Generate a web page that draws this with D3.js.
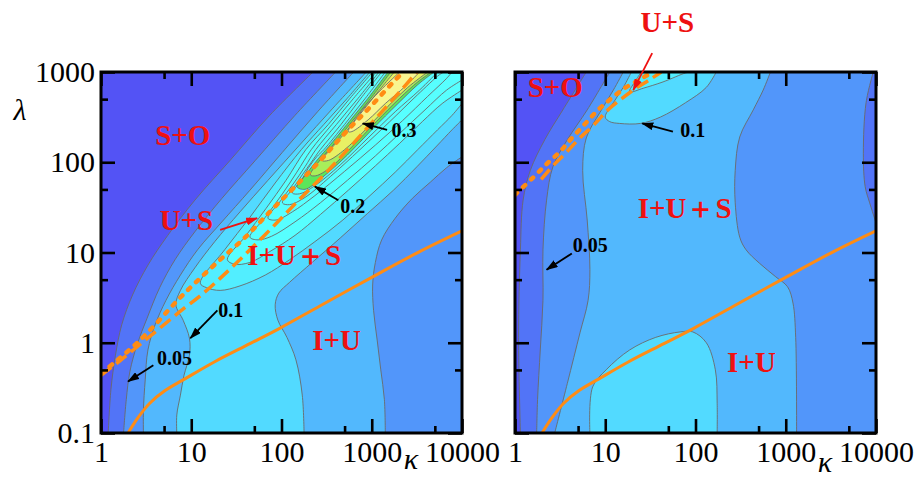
<!DOCTYPE html>
<html><head><meta charset="utf-8">
<script src="https://cdn.jsdelivr.net/npm/d3@7"></script>
<style>
body{margin:0;background:#fff;}
svg text{font-family:"Liberation Serif","Times New Roman",serif;}
</style></head><body>
<svg id="chart" width="919" height="478"></svg>
<script>
// ---------- axis ticks ----------
const kappaTicks = [1,10,100,1000,10000];
const kappaMinor = [5,50,500,5000];
const lambdaTicks = [0.1,1,10,100,1000];
const lambdaMinor = [0.5,5,50,500];

// ---------- contour data, points are [log10 kappa, log10 lambda] ----------
// orange solid curve (identical in both panels)
const solidCurve = [[0.30,-1.00],[0.41,-0.83],[0.54,-0.67],[0.71,-0.53],[0.93,-0.40],[1.26,-0.21],[1.65,-0.01],[1.98,0.16],[2.43,0.41],[3.01,0.73],[3.53,1.01],[4.00,1.24]];

// left panel
const leftC025  = [[2.35,3.00],[1.87,2.52],[1.43,2.02],[1.04,1.58],[0.74,1.19],[0.52,0.86],[0.35,0.53],[0.23,0.20],[0.16,-0.14],[0.11,-0.52],[0.08,-1.00]];
const leftC050  = [[2.60,3.00],[2.15,2.52],[1.71,2.02],[1.34,1.60],[1.04,1.23],[0.82,0.92],[0.65,0.61],[0.51,0.27],[0.40,-0.02],[0.32,-0.32],[0.28,-0.63],[0.25,-1.00]];
const leftC075a = [[2.80,3.00],[2.40,2.56],[2.01,2.11],[1.65,1.69],[1.34,1.34],[1.07,1.03],[0.88,0.75],[0.72,0.47],[0.60,0.20],[0.52,-0.08],[0.49,-0.41],[0.47,-0.75],[0.47,-1.00]];
const leftC075b = [[3.15,-1.00],[3.14,-0.63],[3.10,-0.30],[3.06,0.03],[3.02,0.36],[3.01,0.64],[3.04,0.89],[3.11,1.14],[3.26,1.38],[3.45,1.60],[3.65,1.78],[3.83,1.94],[4.00,2.06]];
const leftC100a = [[2.94,3.00],[2.57,2.60],[2.20,2.19],[1.85,1.80],[1.54,1.45],[1.26,1.12],[1.04,0.83],[0.88,0.58],[0.83,0.42],[0.91,0.25],[0.98,0.05],[0.98,-0.14],[0.92,-0.36],[0.88,-0.58],[0.84,-0.80],[0.84,-1.00]];
const leftC100b = [[2.25,-1.00],[2.23,-0.58],[2.16,-0.19],[2.06,0.06],[1.96,0.25],[1.93,0.42],[1.97,0.55],[2.09,0.67],[2.34,0.89],[2.65,1.16],[2.95,1.43],[3.24,1.69],[3.50,1.95],[3.72,2.18],[3.89,2.36],[4.00,2.47]];
const leftC125  = [[2.98,3.00],[2.73,2.71],[2.47,2.42],[2.22,2.14],[1.93,1.77],[1.65,1.39],[1.37,1.03],[1.10,0.66],[1.17,0.61],[1.32,0.58],[1.54,0.63],[1.82,0.75],[2.09,0.92],[2.37,1.12],[2.68,1.36],[2.98,1.63],[3.26,1.89],[3.51,2.14],[3.73,2.36],[3.89,2.52],[4.00,2.65]];
const leftC150  = [[3.01,3.00],[2.76,2.71],[2.52,2.42],[2.27,2.14],[2.05,1.80],[1.83,1.49],[1.60,1.18],[1.40,0.92],[1.48,0.87],[1.65,0.89],[1.87,1.01],[2.15,1.19],[2.43,1.42],[2.74,1.69],[3.04,1.96],[3.31,2.21],[3.56,2.45],[3.78,2.65],[4.00,2.80]];
const leftC175  = [[3.05,3.00],[2.80,2.71],[2.56,2.42],[2.33,2.14],[2.17,1.89],[2.01,1.65],[1.82,1.39],[1.65,1.17],[1.74,1.14],[1.89,1.18],[2.15,1.34],[2.43,1.55],[2.73,1.80],[3.04,2.07],[3.31,2.32],[3.59,2.58],[3.83,2.80],[4.00,2.91]];
const leftC200  = [[3.08,3.00],[2.85,2.71],[2.61,2.42],[2.38,2.14],[2.26,1.95],[2.13,1.76],[1.98,1.56],[1.85,1.38],[1.94,1.36],[2.12,1.45],[2.37,1.63],[2.70,1.90],[3.04,2.19],[3.34,2.46],[3.62,2.73],[3.83,2.93],[3.89,3.00]];
const leftC215  = [[3.11,3.00],[2.88,2.71],[2.66,2.42],[2.43,2.14],[2.33,2.00],[2.23,1.86],[2.12,1.70],[2.01,1.55],[2.09,1.53],[2.26,1.61],[2.54,1.84],[2.87,2.14],[3.20,2.45],[3.51,2.75],[3.75,2.97],[3.80,3.00]];
const leftC230  = [[3.15,3.00],[2.93,2.71],[2.70,2.42],[2.47,2.14],[2.39,2.06],[2.30,1.94],[2.22,1.80],[2.12,1.66],[2.20,1.65],[2.37,1.74],[2.65,1.97],[2.96,2.27],[3.26,2.56],[3.53,2.80],[3.73,3.00]];
const leftC250  = [[3.18,3.00],[2.96,2.71],[2.75,2.45],[2.52,2.17],[2.45,2.09],[2.36,1.98],[2.26,1.85],[2.17,1.73],[2.26,1.70],[2.45,1.83],[2.73,2.08],[3.01,2.37],[3.29,2.65],[3.51,2.86],[3.69,3.00]];
const leftC275  = [[3.21,3.00],[2.99,2.71],[2.78,2.45],[2.57,2.19],[2.49,2.10],[2.40,1.99],[2.32,1.86],[2.38,1.85],[2.54,1.94],[2.78,2.17],[3.05,2.45],[3.31,2.71],[3.51,2.89],[3.66,3.00]];
const leftC300  = [[3.25,3.00],[3.02,2.72],[2.83,2.48],[2.63,2.24],[2.54,2.14],[2.45,2.02],[2.52,2.02],[2.70,2.14],[2.93,2.36],[3.18,2.62],[3.40,2.83],[3.62,3.00]];
const leftC325  = [[3.31,3.00],[3.09,2.79],[2.89,2.57],[2.74,2.34],[2.78,2.34],[2.96,2.47],[3.15,2.65],[3.37,2.84],[3.53,3.00]];
const leftDotted = [[0.00,-0.34],[0.16,-0.21],[0.38,-0.02],[0.60,0.20],[0.82,0.44],[1.04,0.66],[1.32,0.92],[1.60,1.17],[1.87,1.45],[2.15,1.73],[2.43,2.02],[2.70,2.32],[2.98,2.61],[3.24,2.89],[3.35,3.00]];
const leftDashed = [[0.00,-0.36],[0.21,-0.20],[0.43,-0.02],[0.65,0.16],[0.88,0.35],[1.10,0.52],[1.37,0.76],[1.65,1.03],[1.93,1.31],[2.20,1.59],[2.48,1.87],[2.76,2.17],[3.04,2.48],[3.31,2.78],[3.50,3.00]];

// right panel
const rightC025  = [[0.79,3.00],[0.53,2.58],[0.33,2.25],[0.17,1.91],[0.09,1.58],[0.06,1.03],[0.04,0.06],[0.06,-1.00]];
const rightC050a = [[1.05,3.00],[0.80,2.58],[0.58,2.25],[0.42,1.95],[0.35,1.58],[0.31,1.03],[0.31,0.47],[0.28,-0.08],[0.25,-0.63],[0.24,-1.00]];
const rightC050b = [[3.97,3.00],[3.89,2.66],[3.86,2.10],[3.88,1.73],[3.93,1.55],[3.99,1.36],[4.04,1.19]];
const rightC075a = [[1.20,3.00],[1.09,2.80],[0.94,2.55],[0.79,2.27],[0.75,1.91],[0.80,1.36],[0.83,0.81],[0.81,0.47],[0.72,0.11],[0.58,-0.45],[0.44,-1.00]];
const rightC075b = [[2.83,3.00],[2.75,2.80],[2.64,2.58],[2.49,2.28],[2.44,1.91],[2.44,1.55],[2.49,1.17],[2.56,1.03],[2.71,0.88],[2.89,0.73],[3.02,0.62],[3.08,0.44],[3.11,0.06],[3.12,-1.00]];
const rightC100a = [[0.83,-1.00],[0.86,-0.49],[1.01,-0.30],[1.27,-0.08],[1.56,0.06],[1.83,0.12],[1.97,0.12],[2.12,0.00],[2.22,-0.30],[2.24,-0.67],[2.24,-1.00]];
const rightC100b = [[1.29,3.00],[1.20,2.83],[1.09,2.66],[1.00,2.50],[1.05,2.45],[1.16,2.43],[1.39,2.43],[1.61,2.50],[1.89,2.66],[2.12,2.83],[2.23,3.00]];
const rightC125  = [[1.40,3.00],[1.34,2.91],[1.27,2.78],[1.42,2.82],[1.64,2.89],[1.89,2.99],[1.94,3.00]];
const rightDotted = [[0.00,1.64],[0.20,1.83],[0.35,1.98],[0.50,2.12],[0.64,2.28],[0.78,2.43],[0.92,2.58],[1.07,2.71],[1.23,2.83],[1.39,2.92],[1.52,3.00]];
const rightDashed = [[0.29,1.81],[0.42,1.96],[0.57,2.11],[0.72,2.27],[0.88,2.42],[1.03,2.58],[1.19,2.71],[1.34,2.82],[1.50,2.92],[1.62,3.00]];

// annotations: [log10 kappa, log10 lambda]
const leftRegionLabels = [["S+O",[0.60,2.19]],["U+S",[0.65,1.25]],["I+U\uFF0BS",[1.62,0.86]],["I+U",[2.34,-0.08]]];
const leftValueLabels  = [["0.3",[3.22,2.28]],["0.2",[2.65,1.44]],["0.1",[1.30,0.29]],["0.05",[0.62,-0.25]]];
const leftArrows = [[[3.17,2.36],[2.90,2.43]],[[2.63,1.58],[2.37,1.73]],[[1.29,0.36],[0.99,0.05]],[[0.58,-0.25],[0.30,-0.43]]];
const leftRedArrows = [[[1.32,1.25],[1.73,1.38]]];
const rightRegionLabels = [["S+O",[0.14,2.72]],["U+S",[1.39,3.44]],["I+U\uFF0BS",[1.36,1.38]],["I+U",[2.35,-0.32]]];
const rightValueLabels  = [["0.1",[1.83,2.28]],["0.05",[0.64,1.01]]];
const rightArrows = [[[1.75,2.34],[1.41,2.43]],[[0.63,0.99],[0.35,0.81]]];
const rightRedArrows = [[[1.52,3.21],[1.31,2.80]]];

// ---------- styles ----------
const C = {c0:'#5353F5', c1:'#5274F7', c2:'#5296FA', c3:'#52B8FD', c4:'#52DAFF', c5:'#52EEFF', c6:'#57FFFF',
           g:'#5CE65A', yg:'#A8EE5A', y:'#E8F064', ly:'#F8F590'};
const ORANGE = '#FF8C14', RED = '#EE1111', LINE = '#6a6a6a';
const SERIF = '"Liberation Serif","Times New Roman",Times,serif';

const svg = d3.select('#chart');
const yS = d3.scaleLog().domain([0.1,1000]).range([433,72]);
const xLeft = d3.scaleLog().domain([1,10000]).range([101,462]);
const xRight = d3.scaleLog().domain([1,10000]).range([515,876]);
const lineGen = d3.line().curve(d3.curveCatmullRom.alpha(0.5));

const defs = svg.append('defs');
function marker(id, color){
  defs.append('marker').attr('id',id).attr('viewBox','0 0 12 8').attr('refX',11).attr('refY',4)
    .attr('markerWidth',12).attr('markerHeight',8).attr('markerUnits','userSpaceOnUse').attr('orient','auto')
    .append('path').attr('d','M0,0L12,4L0,8Z').attr('fill',color);
}
marker('ahB','#000'); marker('ahR',RED);

function drawPanel(xS, id, fills, lines, dotted, dashed, regionLabels, valueLabels, arrows, redArrows, showY){
  const P = p => [xS(Math.pow(10,p[0])), yS(Math.pow(10,p[1]))];
  const seg = (pts, first) => { const d = lineGen(pts.map(P)); return first ? d : 'L' + d.slice(1); };
  const corner = (u,v) => { const q = P([u,v]); return 'L' + q[0] + ',' + q[1]; };
  const [x0,x1] = xS.range(); const [y1,y0] = yS.range();
  defs.append('clipPath').attr('id','clip'+id).append('rect').attr('x',x0).attr('y',y0).attr('width',x1-x0).attr('height',y1-y0);
  const g = svg.append('g').attr('clip-path','url(#clip'+id+')');
  g.append('rect').attr('x',x0).attr('y',y0).attr('width',x1-x0).attr('height',y1-y0).attr('fill',C.c0);
  fills(seg, corner).forEach(f => g.append('path').attr('d',f[1]).attr('fill',f[0]).attr('stroke','none'));
  lines.forEach(l => g.append('path').attr('d',lineGen(l.map(P))).attr('fill','none').attr('stroke',LINE).attr('stroke-width',0.9));
  // orange curves
  g.append('path').attr('d',lineGen(solidCurve.map(P))).attr('fill','none').attr('stroke',ORANGE).attr('stroke-width',3);
  g.append('path').attr('d',lineGen(dashed.map(P))).attr('fill','none').attr('stroke',ORANGE).attr('stroke-width',3.5).attr('stroke-dasharray','13,6');
  g.append('path').attr('d',lineGen(dotted.map(P))).attr('fill','none').attr('stroke',ORANGE).attr('stroke-width',4.5).attr('stroke-linecap','round').attr('stroke-dasharray','3,8');

  // axes
  const ax = (gen, tx, ty, vals, size, labels) => {
    const a = svg.append('g').attr('transform',`translate(${tx},${ty})`)
      .call(gen.tickValues(vals).tickSize(-size).tickPadding(labels?8:0).tickFormat(labels ? (d => String(d)) : () => ''));
    a.select('.domain').remove();
    a.selectAll('.tick line').attr('stroke','#000').attr('stroke-width',2.6);
    a.attr('font-size',30);
    a.selectAll('.tick text').attr('fill','#000').style('font-family',SERIF).style('font-size','30px');
    return a;
  };
  ax(d3.axisBottom(xS), 0, y1, kappaTicks, 14, true);
  ax(d3.axisBottom(xS), 0, y1, kappaMinor, 7, false);
  ax(d3.axisTop(xS), 0, y0, kappaTicks, 14, false);
  ax(d3.axisTop(xS), 0, y0, kappaMinor, 7, false);
  const la = ax(d3.axisLeft(yS), x0, 0, lambdaTicks, 14, showY);
  if (showY) la.selectAll('.tick text').attr('x',-6);
  ax(d3.axisLeft(yS), x0, 0, lambdaMinor, 7, false);
  ax(d3.axisRight(yS), x1, 0, lambdaTicks, 14, false);
  ax(d3.axisRight(yS), x1, 0, lambdaMinor, 7, false);
  svg.append('rect').attr('x',x0).attr('y',y0).attr('width',x1-x0).attr('height',y1-y0)
    .attr('fill','none').attr('stroke','#000').attr('stroke-width',3);

  // annotations
  regionLabels.forEach(l => { const q = P(l[1]);
    svg.append('text').attr('x',q[0]).attr('y',q[1]).text(l[0]).attr('fill',RED)
      .style('font-family',SERIF).attr('font-weight','bold').attr('font-size',29); });
  valueLabels.forEach(l => { const q = P(l[1]);
    svg.append('text').attr('x',q[0]).attr('y',q[1]).text(l[0]).attr('fill','#000')
      .style('font-family',SERIF).attr('font-weight','bold').attr('font-size',20); });
  arrows.forEach(a => { const p = P(a[0]), q = P(a[1]);
    svg.append('line').attr('x1',p[0]).attr('y1',p[1]).attr('x2',q[0]).attr('y2',q[1])
      .attr('stroke','#000').attr('stroke-width',1.8).attr('marker-end','url(#ahB)'); });
  redArrows.forEach(a => { const p = P(a[0]), q = P(a[1]);
    svg.append('line').attr('x1',p[0]).attr('y1',p[1]).attr('x2',q[0]).attr('y2',q[1])
      .attr('stroke',RED).attr('stroke-width',1.8).attr('marker-end','url(#ahR)'); });

  // kappa label
  svg.append('text').attr('x', x1 - 51).attr('y', id==='L'?469:472).attr('text-anchor','middle')
    .style('font-family',SERIF).attr('font-style','italic').attr('font-size',30).text('\u03BA');
}

drawPanel(xLeft, 'L', (seg, corner) => [
  [C.c1, seg(leftC025,true) + corner(4,-1) + corner(4,3) + 'Z'],
  [C.c2, seg(leftC050,true) + corner(4,-1) + corner(4,3) + 'Z'],
  [C.c3, seg(leftC075a,true) + seg(leftC075b,false) + corner(4,3) + 'Z'],
  [C.c4, seg(leftC100a,true) + seg(leftC100b,false) + corner(4,3) + 'Z'],
  [C.c5, seg(leftC125,true) + corner(4,3) + 'Z'],
  [C.c6, seg(leftC150,true) + corner(4,3) + 'Z'],
  [C.c6, seg(leftC175,true) + corner(4,3) + 'Z'],
  [C.c6, seg(leftC200,true) + 'Z'],
  [C.c6, seg(leftC215,true) + 'Z'],
  [C.c6, seg(leftC230,true) + 'Z'],
  [C.g,  seg(leftC250,true) + 'Z'],
  [C.yg, seg(leftC275,true) + 'Z'],
  [C.y,  seg(leftC300,true) + 'Z'],
  [C.ly, seg(leftC325,true) + 'Z']
], [leftC025,leftC050,leftC075a,leftC075b,leftC100a,leftC100b,leftC125,leftC150,leftC175,leftC200,leftC215,leftC230,leftC250,leftC275,leftC300,leftC325],
 leftDotted, leftDashed, leftRegionLabels, leftValueLabels, leftArrows, leftRedArrows, true);

drawPanel(xRight, 'R', (seg, corner) => [
  [C.c1, seg(rightC025,true) + corner(4,-1) + corner(4,3) + 'Z'],
  [C.c2, seg(rightC050a,true) + corner(4,-1) + seg(rightC050b.slice().reverse(),false) + 'Z'],
  [C.c3, seg(rightC075a,true) + seg(rightC075b.slice().reverse(),false) + 'Z'],
  [C.c4, seg(rightC100a,true) + 'Z'],
  [C.c4, seg(rightC100b,true) + 'Z'],
  [C.c5, seg(rightC125,true) + 'Z']
], [rightC025,rightC050a,rightC050b,rightC075a,rightC075b,rightC100a,rightC100b,rightC125],
 rightDotted, rightDashed, rightRegionLabels, rightValueLabels, rightArrows, rightRedArrows, false);

// lambda label
svg.append('text').attr('x',20).attr('y',120).attr('text-anchor','middle')
  .style('font-family',SERIF).attr('font-style','italic').attr('font-size',30).text('\u03BB');
</script></body></html>
